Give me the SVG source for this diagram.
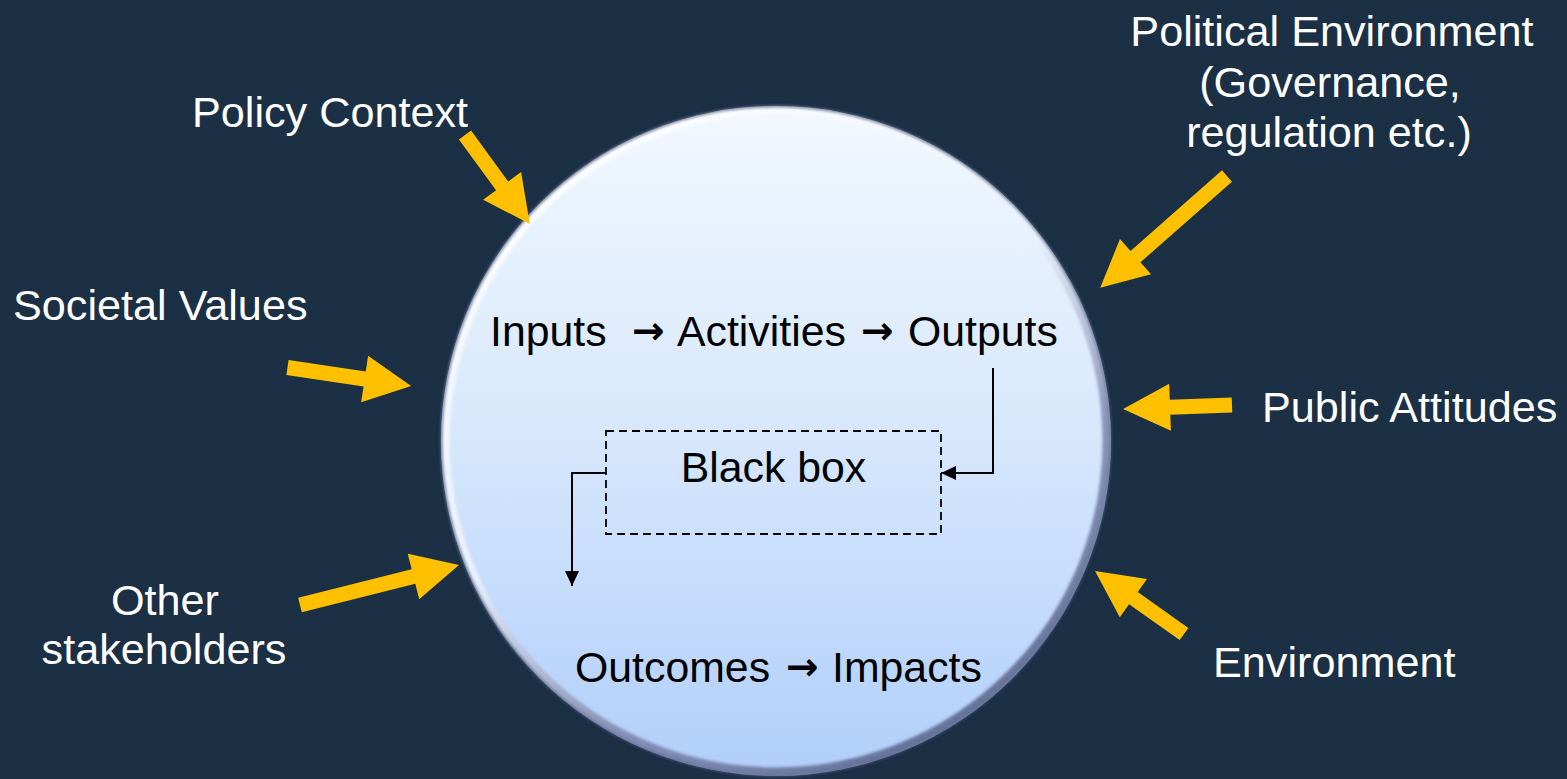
<svg xmlns="http://www.w3.org/2000/svg" width="1567" height="779" viewBox="0 0 1567 779">
  <defs>
    <style>
      .lbl { font-family: "Liberation Sans", Arial, sans-serif; font-size: 43.2px; fill: #ffffff; }
      .in { font-family: "Liberation Sans", Arial, sans-serif; font-size: 42.8px; fill: #000000; }
      .arr { font-family: "DejaVu Sans", sans-serif; font-weight: bold; font-size: 39px; fill: #000000; text-anchor: middle; }
      .ya { fill: #ffc000; }
      .conn { fill: none; stroke: #000000; stroke-width: 2; }
    </style>
    <linearGradient id="fillG" x1="0" y1="0" x2="0" y2="1">
      <stop offset="0" stop-color="#f2f8fe"/>
      <stop offset="0.5" stop-color="#d6e7fc"/>
      <stop offset="1" stop-color="#b0cefa"/>
    </linearGradient>
    <linearGradient id="rimG" x1="0.2" y1="0" x2="0.8" y2="1">
      <stop offset="0" stop-color="#ffffff"/>
      <stop offset="0.45" stop-color="#e8f0fc"/>
      <stop offset="0.7" stop-color="#8a94b8"/>
      <stop offset="1" stop-color="#5d6a90"/>
    </linearGradient>
    <filter id="soft" x="-10%" y="-10%" width="120%" height="120%">
      <feGaussianBlur stdDeviation="1.6"/>
    </filter>
    <marker id="ah" markerUnits="userSpaceOnUse" markerWidth="15" markerHeight="14" viewBox="0 0 15 14" refX="15" refY="7" orient="auto">
      <path d="M0,0 L15,7 L0,14 z" fill="#000000"/>
    </marker>
  </defs>

  <rect width="1567" height="779" fill="#1b2f45"/>

  <g id="circle">
    <circle cx="776" cy="441" r="335" fill="url(#fillG)"/>
    <circle cx="776" cy="441" r="330.5" fill="none" stroke="url(#rimG)" stroke-width="8" filter="url(#soft)"/>
    <circle cx="776" cy="441" r="335" fill="none" stroke="#2e3c60" stroke-width="2" opacity="0.85" filter="url(#soft)"/>
  </g>

  <g id="flow-top">
    <text class="in" y="346"><tspan x="490">Inputs</tspan><tspan x="677">Activities</tspan><tspan x="908">Outputs</tspan></text>
    <text class="arr" x="648" y="344">→</text>
    <text class="arr" x="877" y="344">→</text>
  </g>

  <g id="black-box">
    <rect x="606" y="431" width="335" height="103" fill="none" stroke="#000000" stroke-width="1.8" stroke-dasharray="8 5"/>
    <text class="in" x="773.5" y="482" text-anchor="middle">Black box</text>
  </g>

  <g id="flow-bottom">
    <text class="in" y="682"><tspan x="575">Outcomes</tspan><tspan x="832">Impacts</tspan></text>
    <text class="arr" x="802" y="680">→</text>
  </g>

  <g id="connectors">
    <path class="conn" d="M993,368 V473 H941" marker-end="url(#ah)"/>
    <path class="conn" d="M606,473 H572 V586" marker-end="url(#ah)"/>
  </g>

  <g id="influence-arrows">
    <polygon class="ya" transform="translate(465,135) rotate(53.9)" points="0,-7.5 63,-7.5 63,-23.5 110,0 63,23.5 63,7.5 0,7.5"/>
    <polygon class="ya" transform="translate(1227,176) rotate(138.6)" points="0,-7.5 122,-7.5 122,-23.5 169,0 122,23.5 122,7.5 0,7.5"/>
    <polygon class="ya" transform="translate(287.5,367.5) rotate(8.5)" points="0,-7.5 78,-7.5 78,-23.5 125,0 78,23.5 78,7.5 0,7.5"/>
    <polygon class="ya" transform="translate(300,605) rotate(-14.1)" points="0,-7.5 117,-7.5 117,-23.5 164,0 117,23.5 117,7.5 0,7.5"/>
    <polygon class="ya" transform="translate(1232,405) rotate(177.9)" points="0,-7.5 62,-7.5 62,-23.5 109,0 62,23.5 62,7.5 0,7.5"/>
    <polygon class="ya" transform="translate(1184,634) rotate(-144.7)" points="0,-7.5 62,-7.5 62,-23.5 109,0 62,23.5 62,7.5 0,7.5"/>
  </g>

  <g id="policy-context"><text class="lbl" x="192" y="127">Policy Context</text></g>
  <g id="political-environment">
    <text class="lbl" text-anchor="middle"><tspan x="1332" y="46">Political Environment</tspan><tspan x="1330" y="97">(Governance,</tspan><tspan x="1329" y="147">regulation etc.)</tspan></text>
  </g>
  <g id="societal-values"><text class="lbl" x="13" y="320">Societal Values</text></g>
  <g id="public-attitudes"><text class="lbl" x="1262" y="422">Public Attitudes</text></g>
  <g id="other-stakeholders">
    <text class="lbl" text-anchor="middle"><tspan x="165" y="615">Other</tspan><tspan x="164" y="664">stakeholders</tspan></text>
  </g>
  <g id="environment"><text class="lbl" x="1213" y="677">Environment</text></g>
</svg>
